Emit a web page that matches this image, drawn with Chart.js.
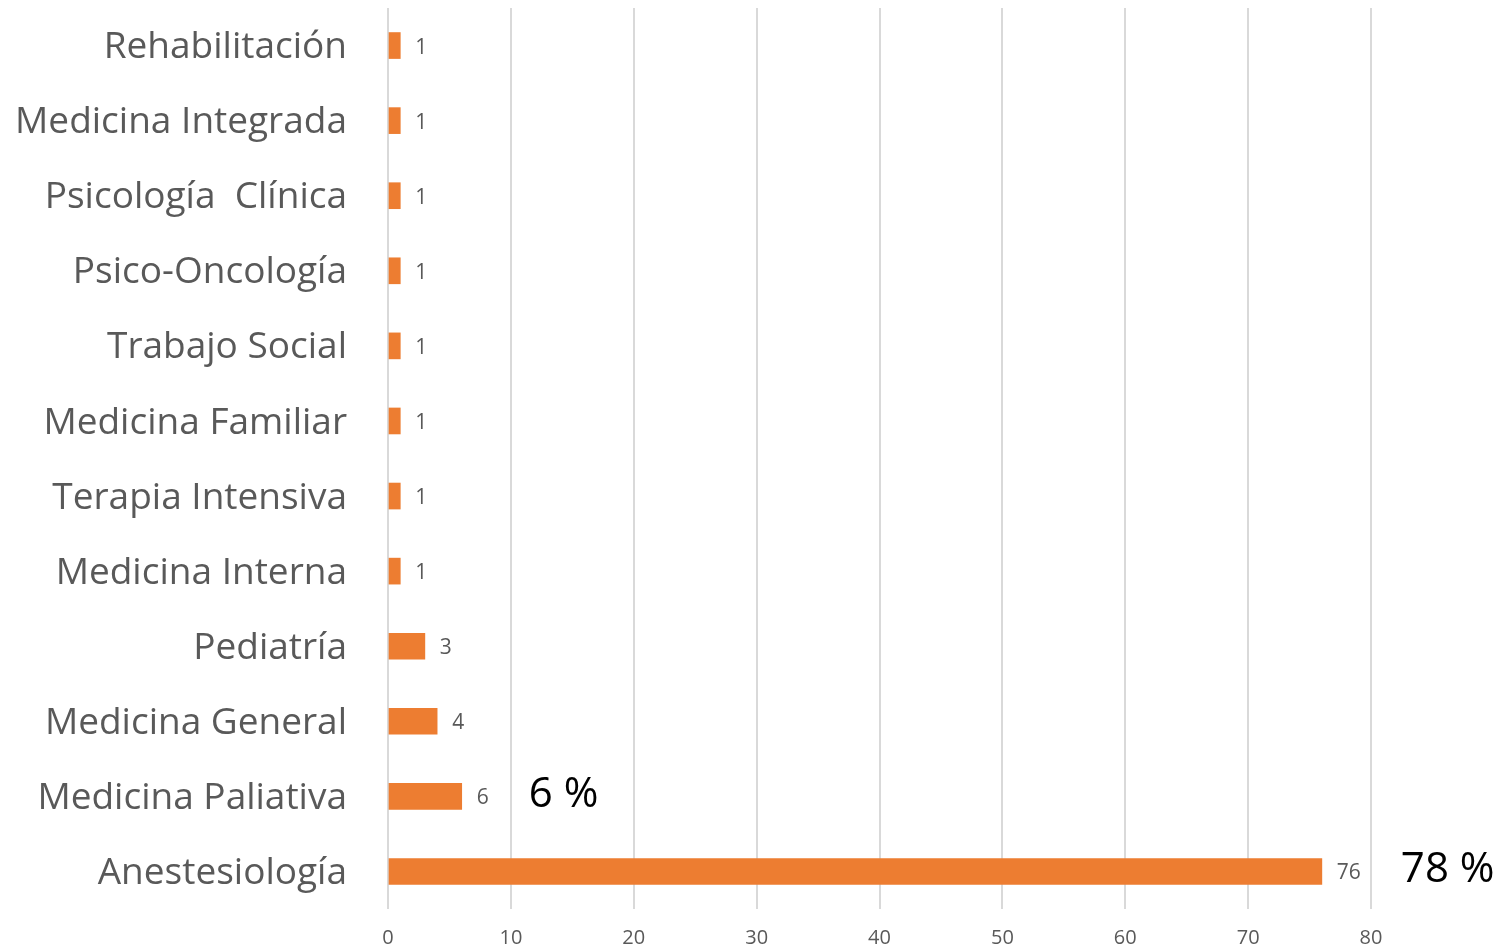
<!DOCTYPE html>
<html>
<head>
<meta charset="utf-8">
<script src="https://cdn.jsdelivr.net/npm/chart.js@4.4.1/dist/chart.umd.min.js"></script>
<style>
  html, body { margin: 0; padding: 0; background: #fff; }
  #wrap { width: 1499px; height: 949px; }
</style>
</head>
<body>
<div id="wrap"><canvas id="chart" width="1499" height="949"></canvas></div>
<script>
  const categories = [
    'Rehabilitación', 'Medicina Integrada', 'Psicología  Clínica', 'Psico-Oncología',
    'Trabajo Social', 'Medicina Familiar', 'Terapia Intensiva', 'Medicina Interna',
    'Pediatría', 'Medicina General', 'Medicina Paliativa', 'Anestesiología'
  ];
  const counts = [1, 1, 1, 1, 1, 1, 1, 1, 3, 4, 6, 76];
  const percentNotes = ['', '', '', '', '', '', '', '', '', '', '6 %', '78 %'];
  const xTicks = [0, 10, 20, 30, 40, 50, 60, 70, 80];

  const FONT = '"Open Sans", "Noto Sans", sans-serif';
  const GREY = '#595959';

  // value labels next to bars + the big percent notes
  const labelPlugin = {
    id: 'barLabels',
    afterDatasetsDraw(chart) {
      const ctx = chart.ctx;
      const meta = chart.getDatasetMeta(0);
      ctx.save();
      ctx.textBaseline = 'middle';
      ctx.textAlign = 'left';
      meta.data.forEach((bar, i) => {
        ctx.font = '21px ' + FONT;
        ctx.fillStyle = GREY;
        const txt = String(counts[i]);
        const x = bar.x + 15;
        ctx.fillText(txt, x, bar.y + 2);
        if (percentNotes[i]) {
          const w = ctx.measureText(txt).width;
          ctx.font = '42px ' + FONT;
          ctx.fillStyle = '#000';
          ctx.fillText(percentNotes[i], x + w + 40, bar.y - 1);
        }
      });
      ctx.restore();
    }
  };

  new Chart(document.getElementById('chart').getContext('2d'), {
    type: 'bar',
    data: {
      labels: categories,
      datasets: [{
        data: counts,
        backgroundColor: '#ED7D31',
        borderWidth: 0,
        barThickness: 26
      }]
    },
    options: {
      indexAxis: 'y',
      responsive: false,
      animation: false,
      devicePixelRatio: 1,
      layout: { padding: { top: 8, right: 128, left: 0, bottom: 0 } },
      plugins: { legend: { display: false }, tooltip: { enabled: false } },
      scales: {
        x: {
          min: 0,
          max: 80,
          afterBuildTicks(scale) { scale.ticks = xTicks.map(v => ({ value: v })); },
          afterFit(scale) { scale.height = 40; scale.paddingLeft = 0; scale.paddingRight = 0; },
          grid: { color: '#d9d9d9', lineWidth: 2, drawTicks: false },
          border: { display: false },
          ticks: { color: GREY, font: { family: FONT, size: 20 }, padding: 17 }
        },
        y: {
          afterFit(scale) { scale.width = 388; scale.paddingTop = 0; scale.paddingBottom = 0; },
          grid: { display: false },
          border: { display: false },
          ticks: { color: GREY, font: { family: FONT, size: 37 }, padding: 33, labelOffset: 2 }
        }
      }
    },
    plugins: [labelPlugin]
  });
</script>
</body>
</html>
